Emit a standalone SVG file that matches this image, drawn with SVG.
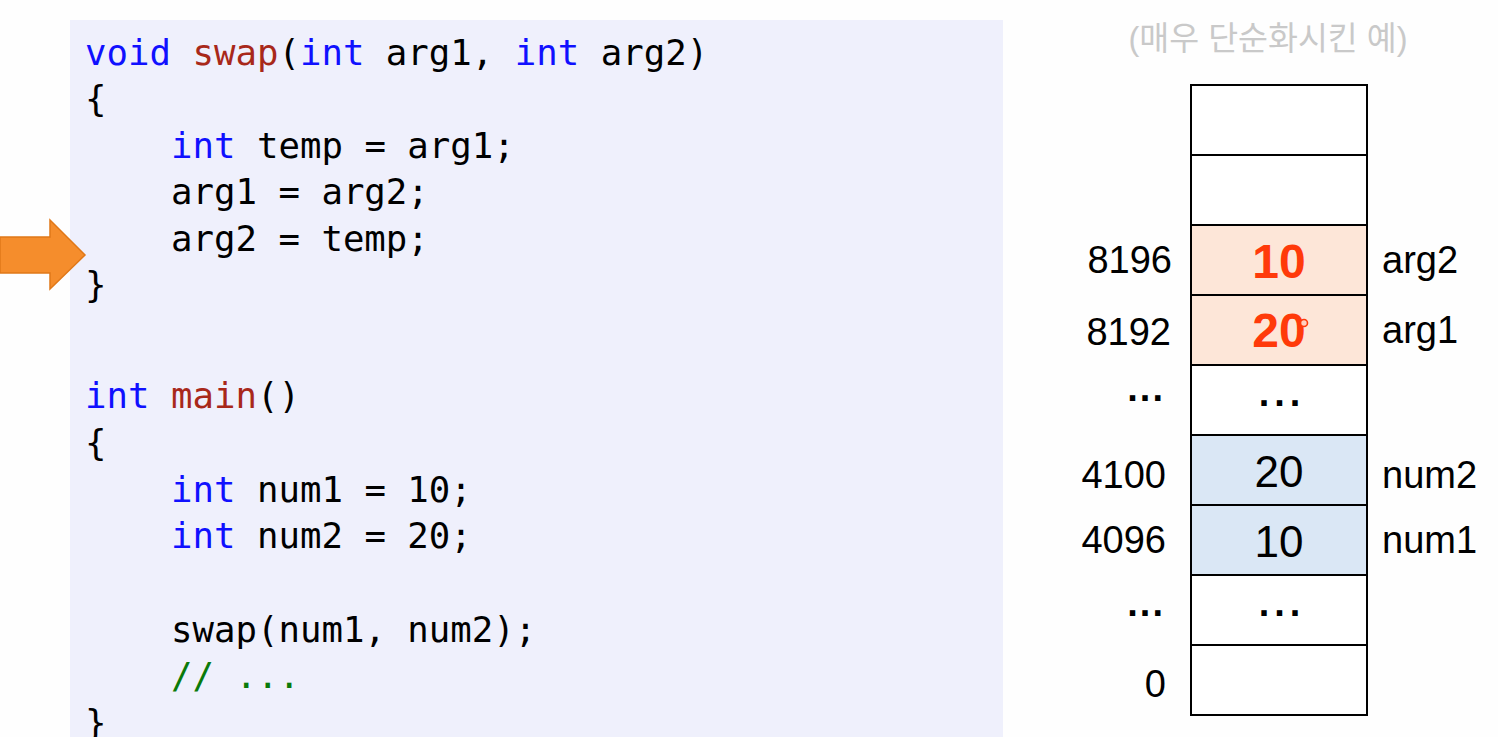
<svg xmlns="http://www.w3.org/2000/svg" width="1498" height="737" viewBox="0 0 1498 737">
<style>
.code{font-family:"DejaVu Sans Mono","Liberation Mono",monospace;font-size:35.7px;fill:#000;white-space:pre}
.kw{fill:#1010ff}
.fn{fill:#a8281a}
.cm{fill:#0a7a0a}
.lbl{font-family:"Liberation Sans",Arial,sans-serif;font-size:38px;fill:#000}
.val{font-family:"Liberation Sans",Arial,sans-serif;font-size:44px;fill:#000;text-anchor:middle}
.hot{font-family:"Liberation Sans",Arial,sans-serif;font-size:48px;font-weight:bold;fill:#ff3a0a;text-anchor:middle}
.cell{stroke:#000;stroke-width:2}
.dots{font-family:"Liberation Sans",Arial,sans-serif;font-size:38px;font-weight:bold;fill:#000;text-anchor:middle;letter-spacing:5px}
.ldots{font-family:"Liberation Sans",Arial,sans-serif;font-size:38px;font-weight:bold;fill:#000;text-anchor:end;letter-spacing:2px}
.r{text-anchor:end}
</style>
<rect x="0" y="0" width="1498" height="737" fill="#fefefe"/>
<g id="code-panel">
<rect x="70" y="20" width="933" height="717" fill="#eff0fc"/>
<text class="code" x="85" y="65"><tspan class="kw">void</tspan> <tspan class="fn">swap</tspan>(<tspan class="kw">int</tspan> arg1, <tspan class="kw">int</tspan> arg2)</text>
<text class="code" x="85" y="111">{</text>
<text class="code" x="171" y="158"><tspan class="kw">int</tspan> temp = arg1;</text>
<text class="code" x="171" y="204">arg1 = arg2;</text>
<text class="code" x="171" y="251">arg2 = temp;</text>
<text class="code" x="85" y="297">}</text>
<text class="code" x="85" y="408"><tspan class="kw">int</tspan> <tspan class="fn">main</tspan>()</text>
<text class="code" x="85" y="455">{</text>
<text class="code" x="171" y="502"><tspan class="kw">int</tspan> num1 = 10;</text>
<text class="code" x="171" y="548"><tspan class="kw">int</tspan> num2 = 20;</text>
<text class="code" x="171" y="642">swap(num1, num2);</text>
<text class="code cm" x="171" y="688">// ...</text>
<text class="code" x="85" y="735">}</text>
</g>
<g id="pointer-arrow">
<polygon points="0,237 50,237 50,220 85,255 50,289 50,273 0,273" fill="#f58d2c" stroke="#e07818" stroke-width="1.5"/>
</g>
<g id="caption">
<text x="1268" y="50" text-anchor="middle" font-family="'Liberation Sans','Noto Sans CJK KR',sans-serif" font-size="32.5" fill="#c9c9c9">(매우 단순화시킨 예)</text>
</g>
<g id="memory">
<g id="cell-top1"><rect class="cell" x="1191" y="85" width="176" height="70" fill="#fff"/></g>
<g id="cell-top2"><rect class="cell" x="1191" y="155" width="176" height="70" fill="#fff"/></g>
<g id="cell-arg2">
<rect class="cell" x="1191" y="225" width="176" height="70" fill="#fde6d8"/>
<text class="lbl r" x="1172" y="273">8196</text>
<text class="hot" x="1279" y="278">10</text>
<text class="lbl" x="1382" y="273">arg2</text>
</g>
<g id="cell-arg1">
<rect class="cell" x="1191" y="295" width="176" height="70" fill="#fde6d8"/>
<text class="lbl r" x="1171" y="345">8192</text>
<text class="hot" x="1279" y="347">20</text>
<circle cx="1304" cy="323" r="3.5" fill="#ffd0c0" stroke="#ff3a0a" stroke-width="1.6"/>
<text class="lbl" x="1382" y="343">arg1</text>
</g>
<g id="cell-gap1">
<rect class="cell" x="1191" y="365" width="176" height="70" fill="#fff"/>
<text class="ldots" x="1165" y="401">...</text>
<text class="dots" x="1282" y="406">...</text>
</g>
<g id="cell-num2">
<rect class="cell" x="1191" y="435" width="176" height="70" fill="#dae7f5"/>
<text class="lbl r" x="1166" y="488">4100</text>
<text class="val" x="1279" y="487">20</text>
<text class="lbl" x="1382" y="488">num2</text>
</g>
<g id="cell-num1">
<rect class="cell" x="1191" y="505" width="176" height="70" fill="#dae7f5"/>
<text class="lbl r" x="1166" y="553">4096</text>
<text class="val" x="1279" y="557">10</text>
<text class="lbl" x="1382" y="553">num1</text>
</g>
<g id="cell-gap2">
<rect class="cell" x="1191" y="575" width="176" height="70" fill="#fff"/>
<text class="ldots" x="1165" y="616">...</text>
<text class="dots" x="1282" y="616">...</text>
</g>
<g id="cell-zero">
<rect class="cell" x="1191" y="645" width="176" height="70" fill="#fff"/>
<text class="lbl r" x="1166" y="697">0</text>
</g>
</g>
</svg>
